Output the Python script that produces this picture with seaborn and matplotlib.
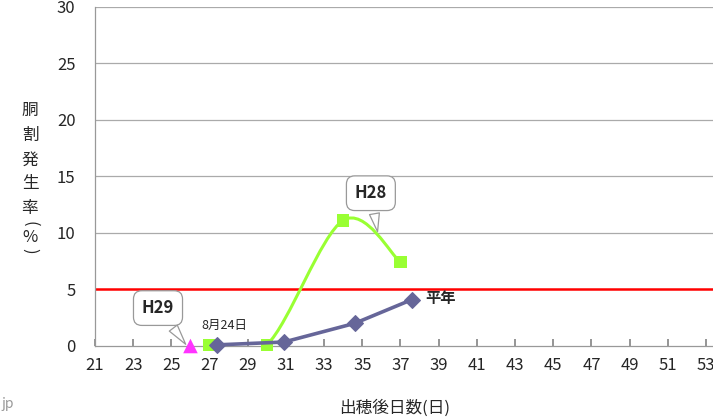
import numpy as np
import matplotlib
matplotlib.use("Agg")
import matplotlib.pyplot as plt
from matplotlib.path import Path
from matplotlib.patches import PathPatch
from matplotlib.transforms import IdentityTransform
import seaborn as sns

# データ
heinen_x = [27.4, 30.9, 34.6, 37.6]
heinen_y = [0.1, 0.35, 2.0, 4.1]
h28_x = [27, 30, 34, 37]
h28_y = [0.1, 0.1, 11.1, 7.4]
h29_x = [26]
h29_y = [0.0]
threshold = 5
xticks = list(range(21, 54, 2))
yticks = [0, 5, 10, 15, 20, 25, 30]
ylabel_chars = ["胴", "割", "発", "生", "率", "(", "%", ")"]

sns.set_theme(style="white")
plt.rcParams['font.family'] = ['Noto Sans CJK JP', 'DejaVu Sans']

fig = plt.figure(figsize=(7.13, 4.17), dpi=100)
ax = fig.add_axes([95/713, 1 - 346/417, 1 - 95/713, (346 - 6.5)/417])
ax.set_xlim(21, 53.37)
ax.set_ylim(0, 30)

for y in yticks[2:]:
    ax.axhline(y, color="#aaaaaa", lw=0.9, zorder=0)
ax.axhline(threshold, color="#ff0000", lw=1.8, zorder=1)

# H28: 平滑化された線 (Catmull-Rom -> Bezier, ピクセル空間)
pts = ax.transData.transform(np.column_stack([h28_x, h28_y]))
verts = [tuple(pts[0])]
codes = [Path.MOVETO]
n = len(pts)
for i in range(n - 1):
    p0 = pts[i - 1] if i > 0 else pts[i]
    p1 = pts[i]
    p2 = pts[i + 1]
    p3 = pts[i + 2] if i + 2 < n else pts[i + 1]
    c1 = p1 + (p2 - p0) / 6
    c2 = p2 - (p3 - p1) / 6
    verts += [tuple(c1), tuple(c2), tuple(p2)]
    codes += [Path.CURVE4] * 3
ax.add_patch(PathPatch(Path(verts, codes), fc="none", ec="#99ff33", lw=2.2,
                       transform=IdentityTransform(), zorder=3))
sns.scatterplot(x=h28_x, y=h28_y, marker="s", s=80, color="#99ff33",
                edgecolor="none", ax=ax, zorder=4, clip_on=False)

sns.lineplot(x=heinen_x, y=heinen_y, color="#666699", lw=2.6, marker="D",
             markersize=8, markeredgecolor="#666699", ax=ax, zorder=5,
             clip_on=False)
sns.scatterplot(x=h29_x, y=h29_y, marker="^", s=110, color="#ff33ff",
                edgecolor="none", ax=ax, zorder=6, clip_on=False)

ax.set_xticks(xticks)
ax.set_yticks(yticks)
ax.tick_params(axis="x", direction="in", length=5, color="#888888",
               labelsize=12, pad=8, bottom=True)
ax.tick_params(axis="y", length=0, labelsize=12, pad=14)
for s in ["top", "right"]:
    ax.spines[s].set_visible(False)
for s in ["left", "bottom"]:
    ax.spines[s].set_color("#999999")
    ax.spines[s].set_linewidth(0.9)

# 吹き出し
box = dict(boxstyle="round,pad=0.5", fc="white", ec="#999999", lw=0.9)
arrow = dict(arrowstyle="wedge,tail_width=0.6,shrink_factor=0.5", fc="white",
             ec="#999999", lw=0.9, shrinkB=0)
ax.annotate("H29", xy=(25.75, 0.15), xytext=(24.3, 3.35), ha="center",
            va="center", fontsize=12, fontweight="bold", bbox=box,
            arrowprops=arrow, zorder=7)
ax.annotate("H28", xy=(35.8, 10.1), xytext=(35.45, 13.5), ha="center",
            va="center", fontsize=12, fontweight="bold", bbox=box,
            arrowprops=arrow, zorder=7)
ax.text(27.8, 1.85, "8月24日", fontsize=9, ha="center", va="center")
ax.text(38.3, 4.25, "平年", fontsize=11, fontweight="bold", ha="left",
        va="center")

ylabel_pos = [110, 135, 160, 184, 208, 224, 238, 251]
for ch, py in zip(ylabel_chars, ylabel_pos):
    rot = -90 if ch in "()" else 0
    fig.text(30/713, 1 - py/417, ch, fontsize=12, ha="center", va="center",
             rotation=rot, rotation_mode="anchor")
fig.text(395/713, 1 - 408/417, "出穂後日数(日)", fontsize=12, ha="center",
         va="center")
fig.text(2/713, 1 - 404/417, "jp", fontsize=10, color="#999999", ha="left",
         va="center")

fig.savefig("out.png", dpi=100)
